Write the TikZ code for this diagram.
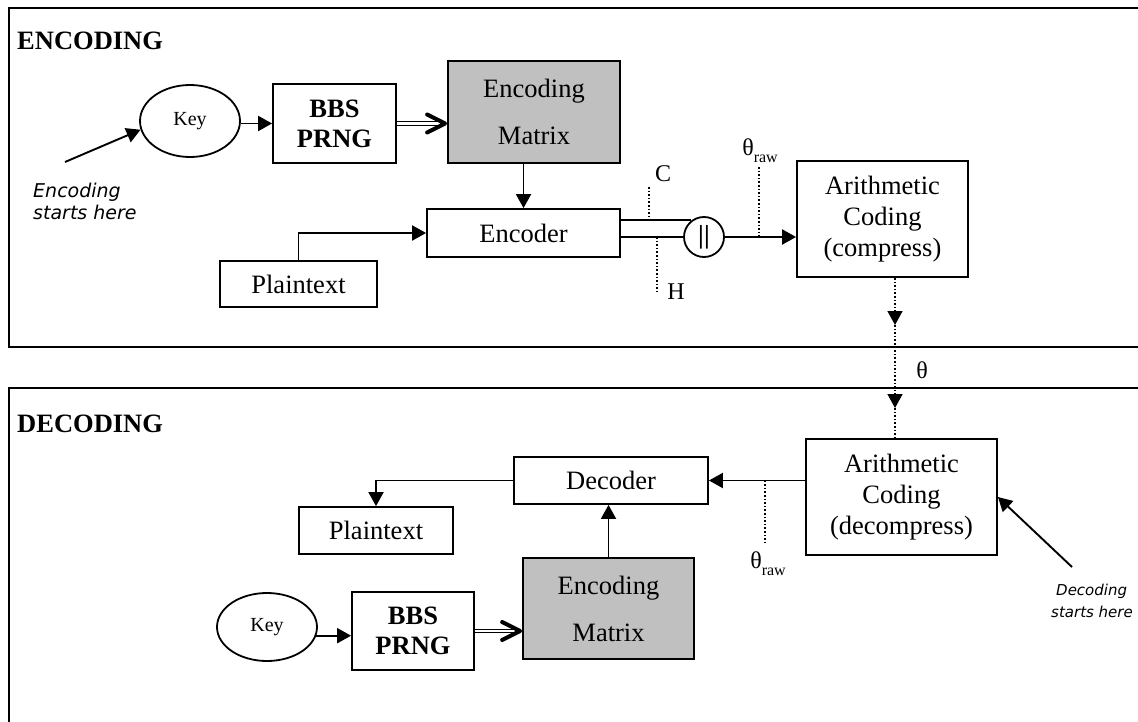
\documentclass[tikz,border=0pt]{standalone}
\usepackage{fontspec}
\setmainfont{Liberation Serif}
\newfontfamily\verdfont{DejaVu Sans}
\usetikzlibrary{arrows.meta,shapes.geometric,calc}
\definecolor{boxgray}{RGB}{192,192,192}
\begin{document}
\begin{tikzpicture}[x=1pt,y=-1pt,
  frame/.style={line width=2pt},
  box/.style={draw,line width=1.8pt,inner sep=0pt,align=center,font=\fontsize{26.5}{31}\selectfont},
  gbox/.style={box,fill=boxgray,font=\fontsize{26.5}{47}\selectfont},
  bbox/.style={box,font=\bfseries\fontsize{26.5}{30}\selectfont},
  keyell/.style={draw,ellipse,line width=1.8pt,inner sep=0pt,font=\fontsize{20}{22}\selectfont},
  conn/.style={line width=1.9pt},
  arr/.style={conn,-{Triangle[length=14pt,width=15pt]}},
  dots/.style={line width=1.6pt,dotted},
  darr/.style={dots,-{Triangle[length=14pt,width=15pt]}},
  dbl/.style={double,double distance=2.5pt,line width=1pt},
  barb/.style={line width=4pt,line join=round,line cap=round},
  note/.style={font=\verdfont\itshape\fontsize{19}{22}\selectfont,align=left,anchor=west,inner sep=0pt},
  title/.style={font=\bfseries\fontsize{26.5}{30}\selectfont,anchor=west,inner sep=0pt},
  lbl/.style={font=\fontsize{24}{26}\selectfont,inner sep=0pt}
]
\clip (0,0) rectangle (1138,722);
\fill[white] (0,0) rectangle (1138,722);
% frames
\draw[frame] (9,8) rectangle (1160,347);
\draw[frame] (9,388) rectangle (1160,760);
\node[title] (enct) at (17,41) {ENCODING};
\node[title] (dect) at (17,424) {DECODING};

% ---------- encoding ----------
\node[keyell,minimum width=100pt,minimum height=72pt] (key) at (190,121) {Key};
\node[bbox,minimum width=123pt,minimum height=79pt] (bbs) at (334.5,123.5) {BBS\\PRNG};
\node[gbox,minimum width=172pt,minimum height=102pt] (mat) at (534,112) {Encoding\\Matrix};
\node[box,minimum width=193pt,minimum height=48pt] (enc) at (523.5,233) {Encoder};
\node[box,minimum width=157pt,minimum height=46pt] (pt) at (298.5,284) {Plaintext};
\node[draw,circle,line width=1.8pt,minimum size=40pt,inner sep=0pt,font=\bfseries\fontsize{26}{26}\selectfont] (circ) at (704,237) {|\kern0.5pt|};
\node[box,minimum width=171pt,minimum height=116pt] (arith) at (882.5,219) {Arithmetic\\Coding\\(compress)};
\node[note] (estart) at (33,201) {Encoding\\starts here};
\coordinate (es) at (65,162);

\draw[arr] (es) -- (key.190);
\draw[arr] (key.east |- bbs.west) -- (bbs.west);
\coordinate (da) at (mat.west |- bbs.east);
\draw[dbl] (bbs.east) -- ($(da)+(-4,0)$);
\draw[barb] ($(da)+(-20,-9)$) -- ($(da)+(-2,0)$) -- ($(da)+(-20,9)$);
\draw[arr] (mat.south -| enc.north) -- (enc.north);
\draw[arr] (pt.north) |- (enc.west);
\draw[conn] (enc.east |- circ.127) -- (circ.127);
\draw[conn] (enc.east |- circ.west) -- (circ.west);
\draw[arr] (circ.east) -- (circ.east -| arith.west);

\coordinate (cTop) at (649,187);
\draw[dots] (cTop) -- (cTop |- circ.127);
\node[lbl] (clbl) at (663,174) {C};
\coordinate (hBot) at (657,292);
\draw[dots] (hBot |- circ.west) -- (hBot);
\node[lbl] (hlbl) at (676,292) {H};
\coordinate (tTop) at (759,167);
\draw[dots] (tTop) -- (tTop |- circ.east);
\node[lbl] (traw1) at (760,151) {θ\raisebox{-0.3em}{\fontsize{16}{16}\selectfont raw}};

% ---------- between ----------
\coordinate (m1) at (895,325);
\coordinate (m2) at (895,408);
\node[lbl] (thmid) at (922,370) {θ};

% ---------- decoding ----------
\node[box,minimum width=191pt,minimum height=116pt] (arith2) at (901.5,497) {Arithmetic\\Coding\\(decompress)};
\node[box,minimum width=194pt,minimum height=47pt] (dec) at (611,480.5) {Decoder};
\node[box,minimum width=154pt,minimum height=47pt] (pt2) at (376,530.5) {Plaintext};
\node[gbox,minimum width=171pt,minimum height=101pt] (mat2) at (608.5,608.5) {Encoding\\Matrix};
\node[bbox,minimum width=122pt,minimum height=78pt] (bbs2) at (413,631) {BBS\\PRNG};
\node[keyell,minimum width=100pt,minimum height=68pt] (key2) at (267,627) {Key};
\node[note,font=\verdfont\itshape\fontsize{15}{22}\selectfont] (dstart) at (1051,601) {\hspace*{5pt}Decoding\\starts here};
\coordinate (ds) at (1072,567);

\draw[darr] (arith.south -| m1) -- (m1);
\draw[darr] (m1) -- (m2);
\draw[dots] (m2) -- (arith2.north -| m2);

\draw[arr] (ds) -- (arith2.east);
\draw[arr] (arith2.west |- dec.east) -- (dec.east);
\draw[arr] (dec.west) -| (pt2.north);
\draw[arr] (mat2.north) -- (mat2.north |- dec.south);
\draw[arr] (key2.-10) -- (key2.-10 -| bbs2.west);
\coordinate (da2) at (mat2.west |- bbs2.east);
\draw[dbl] (bbs2.east) -- ($(da2)+(-4,0)$);
\draw[barb] ($(da2)+(-20,-9)$) -- ($(da2)+(-2,0)$) -- ($(da2)+(-20,9)$);
\coordinate (tBot) at (765,543);
\draw[dots] (tBot |- dec.east) -- (tBot);
\node[lbl] (traw2) at (768,564) {θ\raisebox{-0.3em}{\fontsize{16}{16}\selectfont raw}};
\end{tikzpicture}
\end{document}
